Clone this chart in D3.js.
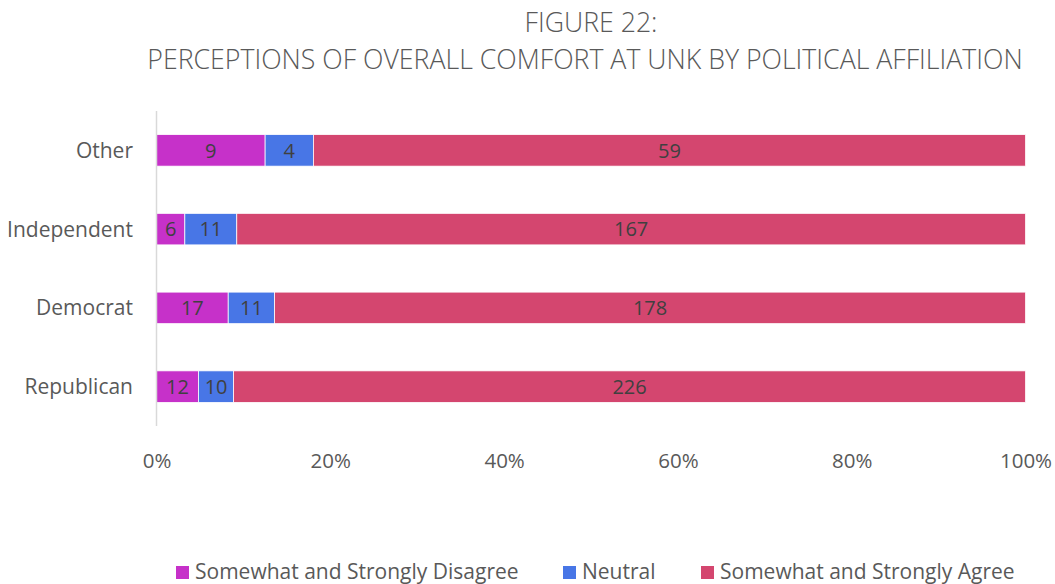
<!DOCTYPE html>
<html>
<head>
<meta charset="utf-8">
<script src="https://cdn.jsdelivr.net/npm/d3@7"></script>
<style>
  body { margin: 0; background: #fff; }
  svg text { font-family: "Open Sans", sans-serif; }
</style>
</head>
<body>
<div id="chart"></div>
<script>
// data
const categories = ["Other", "Independent", "Democrat", "Republican"];
const seriesNames = ["Somewhat and Strongly Disagree", "Neutral", "Somewhat and Strongly Agree"];
const disagree = [9, 6, 17, 12];
const neutral = [4, 11, 11, 10];
const agree = [59, 167, 178, 226];
const tickLabels = ["0%", "20%", "40%", "60%", "80%", "100%"];
const colors = ["#c631c9", "#4876e6", "#d4466f"];

const width = 1055, height = 584;

const svg = d3.select("#chart").append("svg")
  .attr("width", width)
  .attr("height", height);

// build row table with shares
const rows = categories.map(function(c, i) {
  const vals = [disagree[i], neutral[i], agree[i]];
  const total = d3.sum(vals);
  let cum = 0;
  const segs = vals.map(function(v, j) {
    const s = { cat: c, series: j, value: v, x0: cum / total, x1: (cum + v) / total };
    cum += v;
    return s;
  });
  return { cat: c, segs: segs };
});

const x = d3.scaleLinear().domain([0, 1]).range([156.5, 1025.5]);
const y = d3.scaleBand().domain(categories).range([111, 426]).paddingInner(0.6).paddingOuter(0.3);

// title
svg.append("text").attr("x", 591).attr("y", 32).attr("text-anchor", "middle")
  .style("font-size", "26.7px").style("font-weight", 300).style("fill", "#595959").text("FIGURE 22:");
svg.append("text").attr("x", 585).attr("y", 69).attr("text-anchor", "middle")
  .style("font-size", "26.7px").style("font-weight", 300).style("fill", "#595959")
  .text("PERCEPTIONS OF OVERALL COMFORT AT UNK BY POLITICAL AFFILIATION");

// bars
const g = svg.selectAll(".row").data(rows).enter().append("g").attr("class", "row");
g.selectAll("rect").data(d => d.segs).enter().append("rect")
  .attr("x", d => x(d.x0))
  .attr("y", d => y(d.cat))
  .attr("width", d => x(d.x1) - x(d.x0))
  .attr("height", y.bandwidth())
  .attr("fill", d => colors[d.series])
  .attr("stroke", "#fff")
  .attr("stroke-width", 0.75);

g.selectAll(".val").data(d => d.segs).enter().append("text")
  .attr("class", "val")
  .attr("x", d => (x(d.x0) + x(d.x1)) / 2)
  .attr("y", d => y(d.cat) + y.bandwidth() / 2)
  .attr("dy", "0.36em")
  .attr("text-anchor", "middle")
  .style("font-size", "20px")
  .style("fill", "#404040")
  .text(d => d.value);

// vertical axis line
svg.append("line")
  .attr("x1", x(0)).attr("x2", x(0))
  .attr("y1", 111).attr("y2", 426)
  .attr("stroke", "#d9d9d9").attr("stroke-width", 1.5);

// category labels
svg.selectAll(".cat").data(categories).enter().append("text")
  .attr("class", "cat")
  .attr("x", 133)
  .attr("y", d => y(d) + y.bandwidth() / 2)
  .attr("dy", "0.36em")
  .attr("text-anchor", "end")
  .style("font-size", "21px")
  .style("fill", "#595959")
  .text(d => d);

// x axis tick labels
const xAxis = d3.axisBottom(x).tickValues(d3.range(0, 1.01, 0.2))
  .tickFormat((d, i) => tickLabels[i]).tickSize(0).tickPadding(0);
const ax = svg.append("g").attr("transform", "translate(0,453)").call(xAxis);
ax.select(".domain").remove();
ax.selectAll("text").style("font-size", "20.5px").style("fill", "#595959")
  .style("font-family", "'Open Sans', sans-serif");

// legend
const legendX = [176, 563, 701];
const leg = svg.selectAll(".leg").data(seriesNames).enter().append("g").attr("class", "leg")
  .attr("transform", (d, i) => "translate(" + legendX[i] + ",566)");
leg.append("rect").attr("width", 13).attr("height", 13).attr("fill", (d, i) => colors[i]);
leg.append("text").attr("x", 19).attr("y", 13)
  .style("font-size", "21px").style("fill", "#595959").text(d => d);
</script>
</body>
</html>
